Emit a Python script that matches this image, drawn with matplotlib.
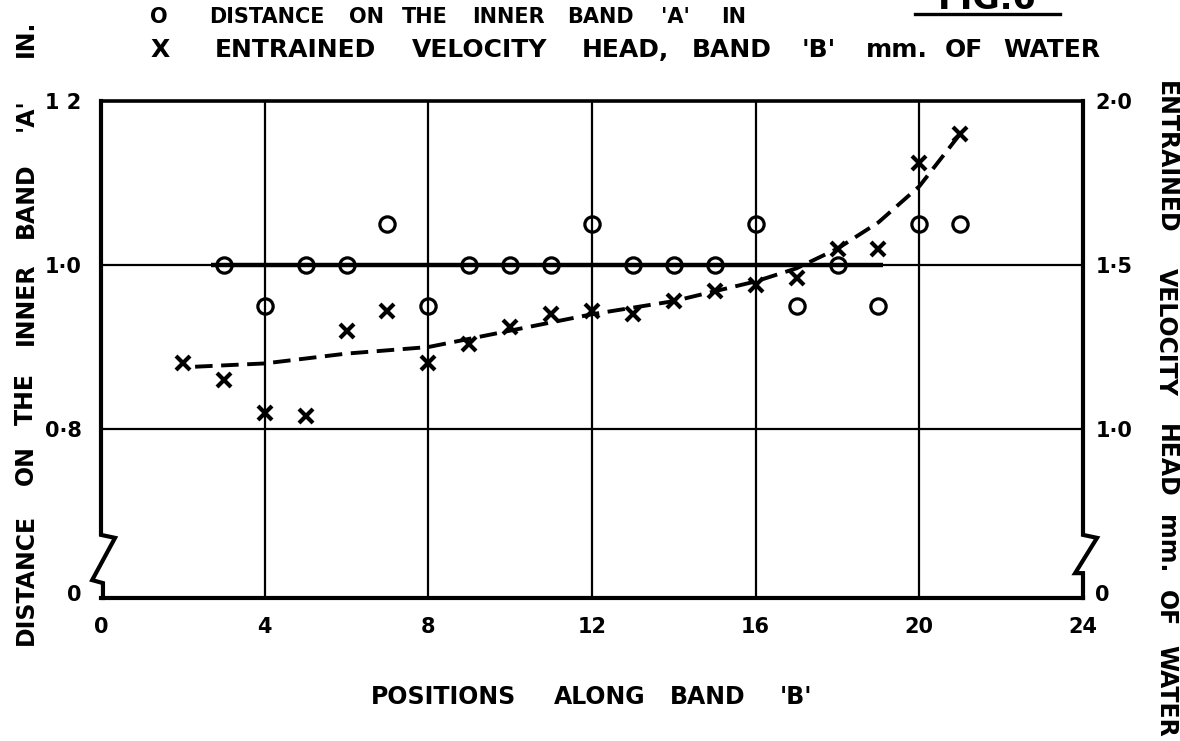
import matplotlib
matplotlib.use('Agg')
import matplotlib.pyplot as plt
from matplotlib.lines import Line2D

# ---- data ----
positions = [3, 4, 5, 6, 7, 8, 9, 10, 11, 12, 13, 14, 15, 16, 17, 18, 19, 20, 21]
distance_in = [1.00, 0.95, 1.00, 1.00, 1.05, 0.95, 1.00, 1.00, 1.00, 1.05,
               1.00, 1.00, 1.00, 1.05, 0.95, 1.00, 0.95, 1.05, 1.05]

head_positions = [2, 3, 4, 5, 6, 7, 8, 9, 10, 11, 12, 13, 14, 15, 16, 17, 18, 19, 20, 21]
head_mm = [1.20, 1.15, 1.05, 1.04, 1.30, 1.36, 1.20, 1.26, 1.31, 1.35,
           1.36, 1.35, 1.39, 1.42, 1.44, 1.46, 1.55, 1.55, 1.81, 1.90]

curve_x = [2.3, 4, 6, 8, 10, 12, 14, 16, 17, 18, 19, 20, 20.5, 21]
curve_y = [1.19, 1.20, 1.23, 1.25, 1.30, 1.35, 1.39, 1.45, 1.49, 1.55, 1.63, 1.74, 1.82, 1.90]

mean_x = [2.7, 19.1]
mean_y = [1.0, 1.0]

x_ticks = [0, 4, 8, 12, 16, 20, 24]
x_grid = [4, 8, 12, 16, 20]
left_ticks = [0.6, 0.8, 1.0, 1.2]
left_labels = ['0', '0·8', '1·0', '1 2']
left_grid = [0.8, 1.0]
right_ticks = [0.5, 1.0, 1.5, 2.0]
right_labels = ['0', '1·0', '1·5', '2·0']

legend_circle = "O  DISTANCE ON THE INNER BAND 'A' IN"
legend_cross = "X  ENTRAINED VELOCITY HEAD, BAND 'B' mm. OF WATER"
xlabel = "POSITIONS ALONG BAND 'B'"
ylabel_left = "DISTANCE ON THE INNER BAND 'A' IN."
ylabel_right = "ENTRAINED VELOCITY HEAD mm. OF WATER"
fig_title = "FIG.6"

# ---- figure ----
plt.rcParams['font.family'] = ['DejaVu Sans']
plt.rcParams['font.weight'] = 'bold'
W, H = 1180, 741
fig = plt.figure(figsize=(W / 100, H / 100), dpi=100)
L, R, T, B = 101, 1083, 101, 598
ax = fig.add_axes([L / W, 1 - B / H, (R - L) / W, (B - T) / H])
ax.set_xlim(0, 24)
ax.set_ylim(0.594, 1.2)
ax2 = ax.twinx()
ax2.set_ylim(2.5 * 0.594 - 1.0, 2.0)

for a in (ax, ax2):
    for s in a.spines.values():
        s.set_visible(False)
    a.set_facecolor('none')

ax.spines['top'].set_visible(True)
ax.spines['top'].set_linewidth(2.6)
ax.spines['bottom'].set_visible(True)
ax.spines['bottom'].set_linewidth(3.0)

# broken left / right spines
lx = [0, 0, 0.0143, -0.009, 0.002, 0.002]
ly = [1.0, 0.127, 0.121, 0.036, 0.030, 0.0]
ax.add_line(Line2D(lx, ly, transform=ax.transAxes, color='black', lw=3.0,
                   clip_on=False, solid_joinstyle='miter'))
rx = [1.0, 1.0, 1.0143, 0.992, 1.0, 1.0]
ry = [1.0, 0.127, 0.121, 0.050, 0.050, 0.0]
ax.add_line(Line2D(rx, ry, transform=ax.transAxes, color='black', lw=3.0,
                   clip_on=False, solid_joinstyle='miter'))

# grid
for gx in x_grid:
    ax.axvline(gx, color='black', lw=1.6, zorder=1)
for gy in left_grid:
    ax.axhline(gy, color='black', lw=1.6, zorder=1)
ax.plot(mean_x, mean_y, color='black', lw=3.2, zorder=2, solid_capstyle='butt')

# ticks
ax.set_xticks(x_ticks)
ax.set_xticklabels([str(v) for v in x_ticks])
ax.set_yticks(left_ticks)
ax.set_yticklabels(left_labels)
ax2.set_yticks(right_ticks)
ax2.set_yticklabels(right_labels)
ax.tick_params(axis='x', length=0, pad=14, labelsize=15)
ax.tick_params(axis='y', length=0, pad=14, labelsize=15)
ax2.tick_params(axis='y', length=0, pad=9, labelsize=15)

# data
ax.plot(positions, distance_in, linestyle='none', marker='o', markersize=11,
        markerfacecolor='none', markeredgecolor='black', markeredgewidth=2.3, zorder=4)
ax2.plot(head_positions, head_mm, linestyle='none', marker='x', markersize=10,
         markeredgecolor='black', markeredgewidth=3.0, zorder=4)
ax2.plot(curve_x, curve_y, color='black', lw=2.8, dashes=(4.5, 2.2), zorder=3)


def spread_text(text, start, end, fixed, rotation=0, size=17):
    """Place words of `text` so they are spread over pixels start..end
    (horizontal, or vertical for rotated text)."""
    n = len(text)
    idx = 0
    for word in text.split(' '):
        if word:
            c = start + (end - start) * (idx + len(word) / 2) / n
            if rotation == 0:
                fig.text(c / W, 1 - fixed / H, word, fontsize=size,
                         fontweight='bold', ha='center', va='center')
            else:
                fig.text(fixed / W, 1 - c / H, word, fontsize=size,
                         fontweight='bold', ha='center', va='center',
                         rotation=rotation)
        idx += len(word) + 1


spread_text(legend_circle, 150, 750, 17, size=15)
spread_text(legend_cross, 150, 1100, 50, size=18)
spread_text(xlabel, 355, 825, 697)
spread_text(ylabel_left, 655, 10, 26, rotation=90)
spread_text(ylabel_right, 75, 737, 1166, rotation=-90)

fig.text(987 / W, 1 - 9 / H, fig_title, fontsize=24, fontweight='bold',
         ha='center', va='baseline')
fig.add_artist(Line2D([915 / W, 1060 / W], [1 - 14 / H, 1 - 14 / H],
                      transform=fig.transFigure, color='black', lw=2.4))

fig.savefig('out.png', dpi=100, facecolor='white')
